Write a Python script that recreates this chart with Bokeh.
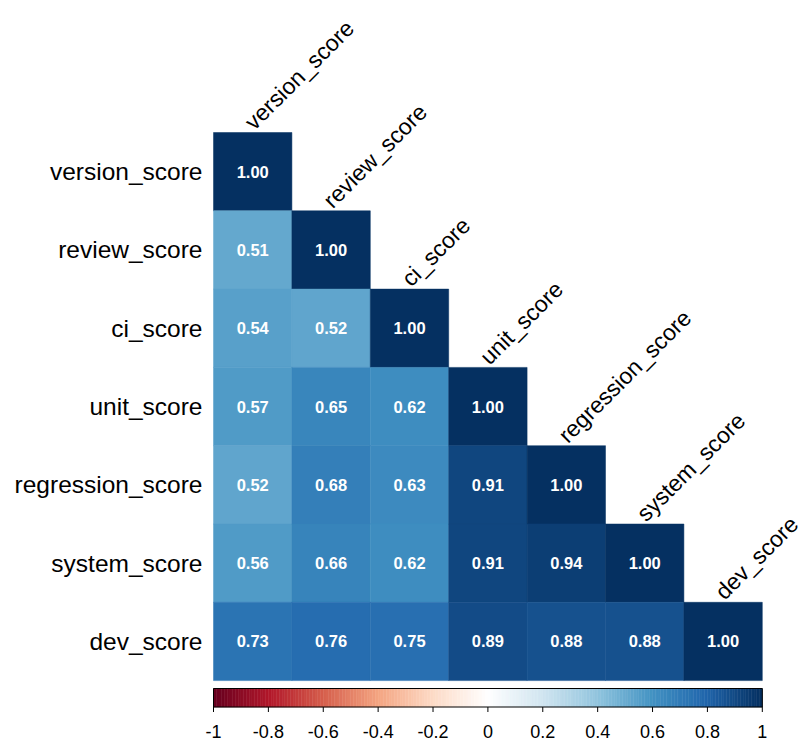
import numpy as np
from bokeh.plotting import figure
from bokeh.models import Range1d, ColumnDataSource, LinearColorMapper
from bokeh.transform import transform
from bokeh.core.properties import value
from bokeh.embed import file_html
from bokeh.resources import INLINE

# ---- data ----
variables = ["version_score", "review_score", "ci_score", "unit_score",
             "regression_score", "system_score", "dev_score"]
row_version = [1.00]
row_review = [0.51, 1.00]
row_ci = [0.54, 0.52, 1.00]
row_unit = [0.57, 0.65, 0.62, 1.00]
row_regression = [0.52, 0.68, 0.63, 0.91, 1.00]
row_system = [0.56, 0.66, 0.62, 0.91, 0.94, 1.00]
row_dev = [0.73, 0.76, 0.75, 0.89, 0.88, 0.88, 1.00]
rows = [row_version, row_review, row_ci, row_unit, row_regression, row_system, row_dev]
colorbar_ticks = [-1, -0.8, -0.6, -0.4, -0.2, 0, 0.2, 0.4, 0.6, 0.8, 1]
colorbar_tick_labels = ["-1", "-0.8", "-0.6", "-0.4", "-0.2", "0", "0.2", "0.4", "0.6", "0.8", "1"]

# ---- palette (RdBu as in corrplot, 200 steps) ----
base = ["#67001F", "#B2182B", "#D6604D", "#F4A582", "#FDDBC7", "#FFFFFF",
        "#D1E5F0", "#92C5DE", "#4393C3", "#2166AC", "#053061"]
base_rgb = np.array([[int(c[i:i + 2], 16) for i in (1, 3, 5)] for c in base], dtype=float)
N = 200
palette = []
for k in range(N):
    t = k / (N - 1) * (len(base) - 1)
    a = int(np.floor(t)); b = min(a + 1, len(base) - 1); f = t - a
    rgb = base_rgb[a] * (1 - f) + base_rgb[b] * f
    palette.append("#%02x%02x%02x" % tuple(int(round(v)) for v in rgb))
mapper = LinearColorMapper(palette=palette, low=-1, high=1)

# ---- layout in cell units ----
W, H = 806, 744
cx, cy = 78.4, 78.3
gx, gy = 213, 132  # grid top-left inside the frame (px)
x_range = Range1d(-gx / cx, (W - gx) / cx)
y_range = Range1d((H - gy) / cy, -gy / cy)  # flipped: y grows downward

p = figure(width=W, height=H, x_range=x_range, y_range=y_range,
           output_backend="svg", toolbar_location=None,
           x_axis_location=None, y_axis_location=None, min_border=0)
p.outline_line_color = None
p.xgrid.visible = False
p.ygrid.visible = False
p.background_fill_color = "white"

xs, ys, rs, txt = [], [], [], []
for i, row in enumerate(rows):
    for j, r in enumerate(row):
        xs.append(j + 0.5); ys.append(i + 0.5); rs.append(r); txt.append("%.2f" % r)
src = ColumnDataSource(dict(x=xs, y=ys, r=rs, t=txt))
p.rect(x="x", y="y", width=1, height=1, source=src,
       fill_color=transform("r", mapper), line_color=transform("r", mapper), line_width=0.5)
p.text(x="x", y="y", text="t", source=src, text_color="white",
       text_font=value("Liberation Sans"), text_font_style="bold",
       text_font_size="16.5px", text_align="center", text_baseline="middle")

n = len(variables)
# row labels
p.text(x=[-11 / cx] * n, y=[i + 0.5 for i in range(n)], text=variables,
       text_font=value("Liberation Sans"), text_font_size="24.5px",
       text_align="right", text_baseline="middle", text_color="black")
# column labels (rotated 45 degrees)
p.text(x=[j + 0.5 - 4 / cx for j in range(n)], y=[j - 7 / cy for j in range(n)], text=variables,
       angle=np.pi / 4, text_font=value("Liberation Sans"), text_font_size="23px",
       text_align="left", text_baseline="alphabetic", text_color="black")

# ---- color bar ----
cb_top = (688 - 132) / cy
cb_bot = (706.5 - 132) / cy
edges = np.linspace(0, n, N + 1)
vals = np.linspace(-1, 1, N + 1)
mids = (vals[:-1] + vals[1:]) / 2
cb_src = ColumnDataSource(dict(left=edges[:-1], right=edges[1:], v=mids))
p.quad(left="left", right="right", top=cb_top, bottom=cb_bot, source=cb_src,
       fill_color=transform("v", mapper), line_color=transform("v", mapper), line_width=0.5)
p.quad(left=[0], right=[n], top=[cb_top], bottom=[cb_bot], fill_color=None,
       line_color="black", line_width=1)
tick_x = [(t + 1) / 2 * n for t in colorbar_ticks]
p.segment(x0=tick_x, x1=tick_x, y0=[cb_bot] * len(tick_x), y1=[cb_bot + 5 / cy] * len(tick_x),
          line_color="black", line_width=1)
p.text(x=tick_x, y=[(731 - 132) / cy] * len(tick_x), text=colorbar_tick_labels,
       text_font=value("Liberation Sans"), text_font_size="18px",
       text_align="center", text_baseline="middle", text_color="black")

open("out.html", "w").write(file_html(p, INLINE))
